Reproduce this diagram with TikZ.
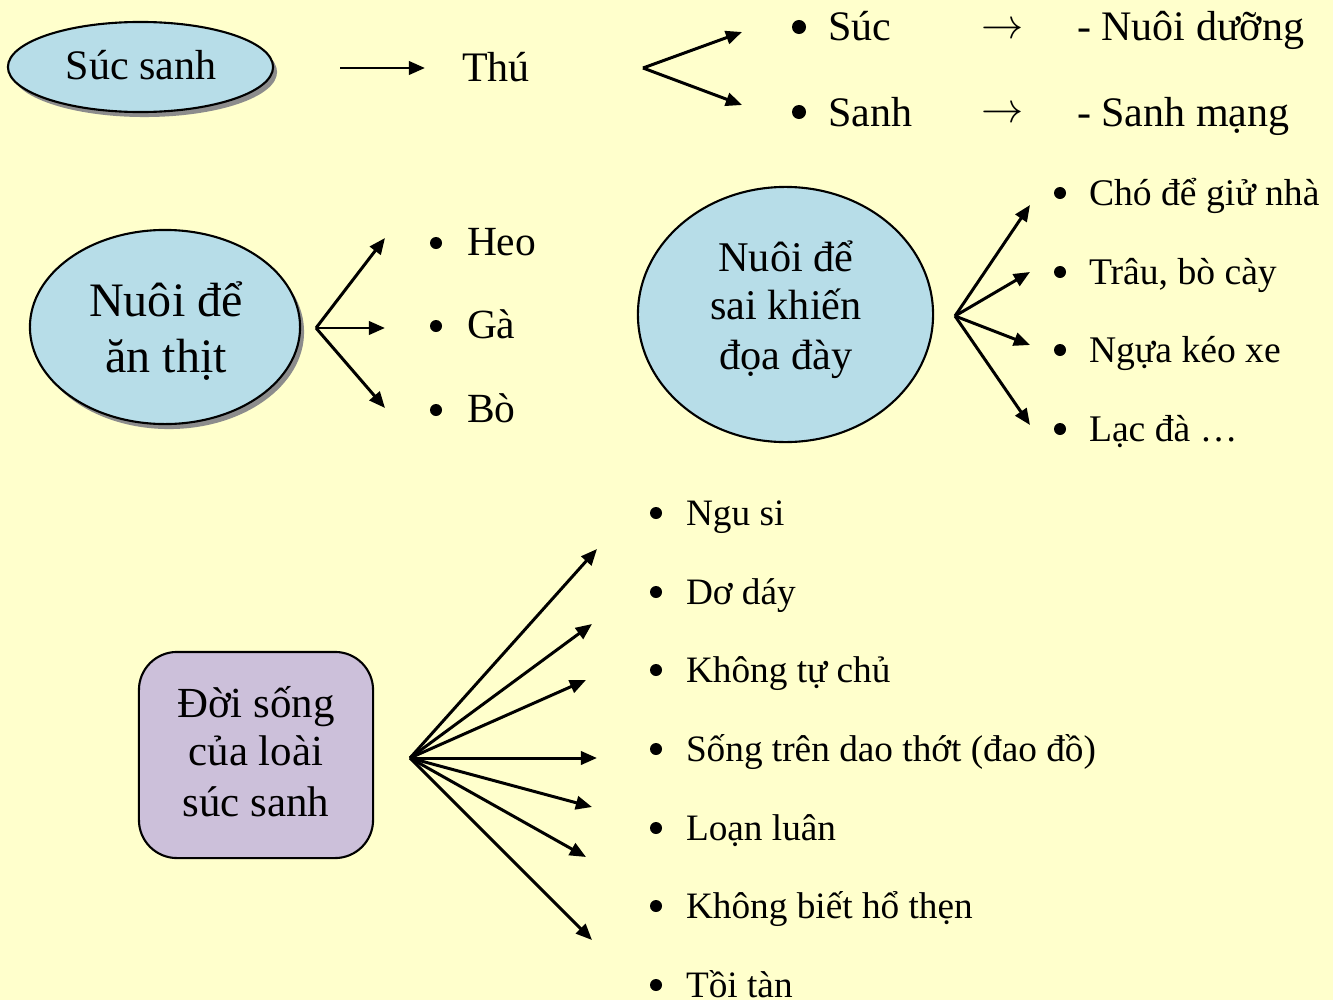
\documentclass[tikz,border=0pt]{standalone}
\usepackage{fontspec}
\setmainfont{Liberation Serif}
\usetikzlibrary{arrows.meta,shapes.geometric,shadows}
\definecolor{bg}{HTML}{FFFFCC}
\definecolor{bubble}{HTML}{B7DDE8}
\definecolor{lilac}{HTML}{CCC0DA}
\definecolor{shade}{HTML}{8C8C8C}
\begin{document}
\begin{tikzpicture}[x=0.01cm,y=-0.01cm,
  arr/.style={line width=0.85pt,-{Triangle[length=4.6pt,width=3.8pt]}},
  lbl/.style={anchor=base west,inner sep=0pt,outer sep=0pt},
  ctr/.style={anchor=base,inner sep=0pt,outer sep=0pt},
  bub/.style={ellipse,draw=black,line width=0.6pt,fill=bubble,inner sep=0pt},
  shad/.style={drop shadow={shadow xshift=0.04cm,shadow yshift=-0.05cm,fill=shade,opacity=1}},
  dot/.style={fill=black},
  fA/.style={font=\fontsize{11.95pt}{14pt}\selectfont},
  fB/.style={font=\fontsize{13.66pt}{16pt}\selectfont},
  fC/.style={font=\fontsize{11.8pt}{14pt}\selectfont},
  fD/.style={font=\fontsize{12.03pt}{14pt}\selectfont},
  fE/.style={font=\fontsize{10.7pt}{13pt}\selectfont},
  fF/.style={font=\fontsize{12.2pt}{14pt}\selectfont},
  fG/.style={font=\fontsize{10.6pt}{13pt}\selectfont}]
\fill[bg] (0,0) rectangle (1333,1000);
\useasboundingbox (0,0) rectangle (1333,1000);

% ---------- row 1 ----------
\node[bub,shad,minimum width=2.65cm,minimum height=0.9cm] (e1) at (140.5,67) {};
\node[ctr,fA] (t1) at (141,80) {Súc sanh};
\coordinate (a1s) at (340,68);
\coordinate (a1e) at (425,68);
\draw[arr] (a1s) -- (a1e);
\node[lbl,fA] (thu) at (462,81) {Thú};
\coordinate (f1) at (643,68);
\coordinate (f1a) at (742,32);
\coordinate (f1b) at (742,105);
\draw[arr] (f1) -- (f1a);
\draw[arr] (f1) -- (f1b);
\fill[dot] (799,27) circle [radius=0.07cm];
\fill[dot] (799,112) circle [radius=0.07cm];
\node[lbl,fA] (suc) at (828,41) {Súc};
\node[lbl,fA] (sanh) at (828,126) {Sanh};
\node[ctr,fA] (ar1) at (1003,38) {$\rightarrow$};
\node[ctr,fA] (ar2) at (1003,123) {$\rightarrow$};
\node[lbl,fA] (nd) at (1077,41) {- Nuôi dưỡng};
\node[lbl,fA] (sm) at (1077,126) {- Sanh mạng};

% ---------- ellipse 2 ----------
\node[bub,shad,minimum width=2.70cm,minimum height=1.94cm] (e2) at (165,327) {};
\node[ctr,fB] (e2a) at (166,316) {Nuôi để};
\node[ctr,fB] (e2b) at (166,372) {ăn thịt};
\coordinate (f2) at (316,328);
\coordinate (f2a) at (385,238);
\coordinate (f2b) at (385,328);
\coordinate (f2c) at (385,408);
\draw[arr] (f2) -- (f2a);
\draw[arr] (f2) -- (f2b);
\draw[arr] (f2) -- (f2c);
\fill[dot] (436,243) circle [radius=0.06cm];
\fill[dot] (436,326) circle [radius=0.06cm];
\fill[dot] (436,410) circle [radius=0.06cm];
\node[lbl,fC] (heo) at (467,255) {Heo};
\node[lbl,fC] (ga) at (467,338) {Gà};
\node[lbl,fC] (bo) at (467,422) {Bò};

% ---------- ellipse 3 ----------
\node[bub,minimum width=2.95cm,minimum height=2.55cm] (e3) at (785.5,314.5) {};
\node[ctr,fD] (e3a) at (786,271) {Nuôi để};
\node[ctr,fD] (e3b) at (786,319) {sai khiến};
\node[ctr,fD] (e3c) at (786,369) {đọa đày};
\coordinate (f3) at (955,316);
\coordinate (f3a) at (1030,205);
\coordinate (f3b) at (1030,272);
\coordinate (f3c) at (1030,345);
\coordinate (f3d) at (1030,425);
\draw[arr] (f3) -- (f3a);
\draw[arr] (f3) -- (f3b);
\draw[arr] (f3) -- (f3c);
\draw[arr] (f3) -- (f3d);
\fill[dot] (1060,193) circle [radius=0.06cm];
\fill[dot] (1060,272) circle [radius=0.06cm];
\fill[dot] (1060,350) circle [radius=0.06cm];
\fill[dot] (1060,429) circle [radius=0.06cm];
\node[lbl,fE] (cho) at (1089,205) {Chó để giử nhà};
\node[lbl,fE] (trau) at (1089,284) {Trâu, bò cày};
\node[lbl,fE] (ngua) at (1089,362) {Ngựa kéo xe};
\node[lbl,fE] (lac) at (1089,441) {Lạc đà …};

% ---------- box ----------
\node[draw=black,line width=0.6pt,fill=lilac,rounded corners=0.38cm,
      minimum width=2.34cm,minimum height=2.06cm,inner sep=0pt] (box) at (256,755) {};
\node[ctr,fF] (b1) at (256,717) {Đời sống};
\node[ctr,fF] (b2) at (256,765) {của loài};
\node[ctr,fF] (b3) at (256,816) {súc sanh};
\coordinate (f4) at (410,758);
\coordinate (f4a) at (597,549);
\coordinate (f4b) at (592,624);
\coordinate (f4c) at (586,680);
\coordinate (f4d) at (597,758);
\coordinate (f4e) at (592,807);
\coordinate (f4f) at (586,857);
\coordinate (f4g) at (592,940);
\foreach \t in {f4a,f4b,f4c,f4d,f4e,f4f,f4g}{\draw[arr] (f4) -- (\t);}
\foreach \yy in {513,592,670,749,828,906,985}{\fill[dot] (656,\yy) circle [radius=0.06cm];}
\node[lbl,fG] (l1) at (686,525) {Ngu si};
\node[lbl,fG] (l2) at (686,604) {Dơ dáy};
\node[lbl,fG] (l3) at (686,682) {Không tự chủ};
\node[lbl,fG] (l4) at (686,761) {Sống trên dao thớt (đao đồ)};
\node[lbl,fG] (l5) at (686,840) {Loạn luân};
\node[lbl,fG] (l6) at (686,918) {Không biết hổ thẹn};
\node[lbl,fG] (l7) at (686,997) {Tồi tàn};
\end{tikzpicture}
\end{document}
